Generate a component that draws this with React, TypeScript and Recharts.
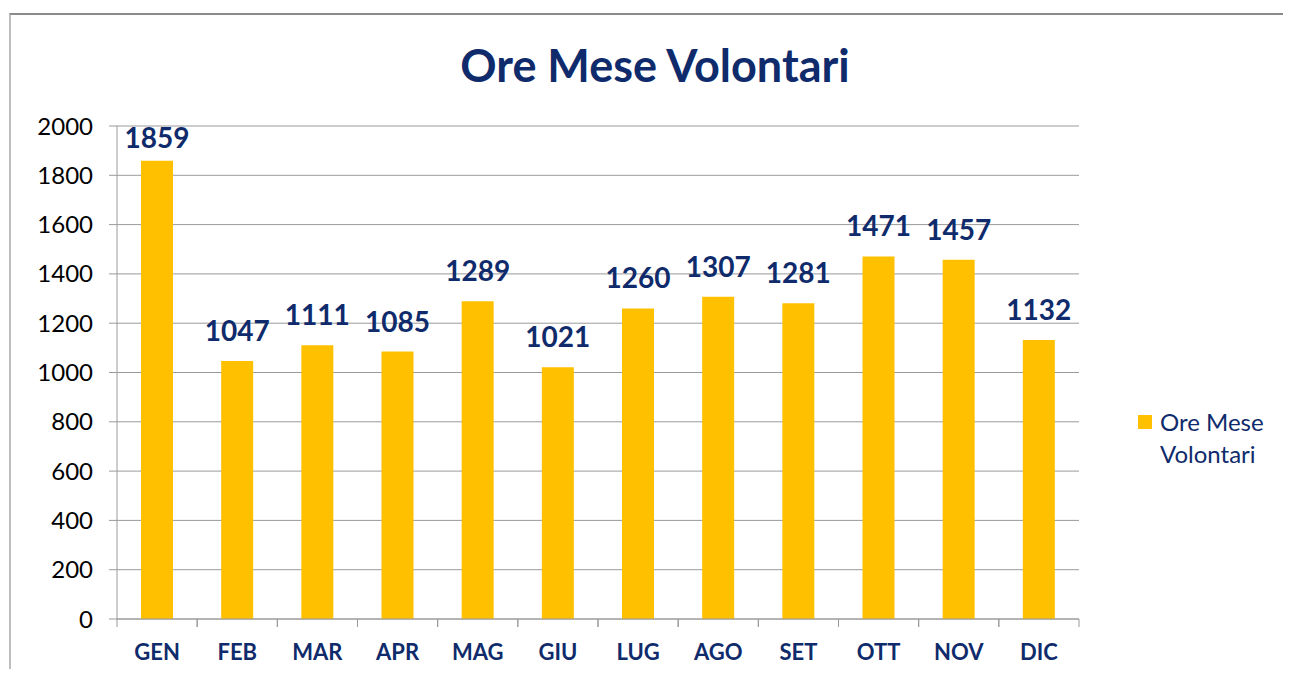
import { BarChart, Bar, XAxis, YAxis, CartesianGrid, LabelList } from 'recharts';

const mesi = ['GEN', 'FEB', 'MAR', 'APR', 'MAG', 'GIU', 'LUG', 'AGO', 'SET', 'OTT', 'NOV', 'DIC'];
const oreVolontari = [1859, 1047, 1111, 1085, 1289, 1021, 1260, 1307, 1281, 1471, 1457, 1132];
const yTicks = [0, 200, 400, 600, 800, 1000, 1200, 1400, 1600, 1800, 2000];

const NAVY = '#0f2b6b';
const GOLD = '#ffc000';
const GRID = '#9a9a9a';
const FONT = 'Lato, "Open Sans", sans-serif';

const data = mesi.map((m, i) => ({ mese: m, ore: oreVolontari[i] }));

// category tick: label plus small tick marks at the category edges
function MeseTick(props: any) {
  const { x, y, payload } = props;
  const half = payload && payload.offset ? payload.offset : 40;
  return (
    <g>
      <line x1={x - half} x2={x - half} y1={619} y2={627} stroke={GRID} />
      <line x1={x + half} x2={x + half} y1={619} y2={627} stroke={GRID} />
      <text x={x} y={y} dy="0.71em" textAnchor="middle" fill={NAVY} fontSize={22} fontWeight={700} fontFamily={FONT}>
        {payload.value}
      </text>
    </g>
  );
}

// value label above the bar, kept inside the plot area like Excel does
function ValueLabel(props: any) {
  const { x, y, width, value } = props;
  const base = Math.max(y - 20, 148);
  return (
    <text x={x + width / 2} y={base} textAnchor="middle" fill={NAVY} fontSize={28} fontWeight={700} fontFamily={FONT}>
      {value}
    </text>
  );
}

export default function App() {
  return (
    <div style={{ position: 'relative', width: 1291, height: 677, margin: -8, background: '#fff', overflow: 'hidden' }}>
      <div style={{ position: 'absolute', left: 9, top: 13, width: 1300, height: 700, borderLeft: '2px solid #bdbdbd', borderTop: '2px solid #8a8a8a' }} />
      <div style={{ position: 'absolute', left: 0, width: 1310, top: 40, textAlign: 'center', fontFamily: FONT, fontWeight: 700, fontSize: 45, color: NAVY, lineHeight: '50px' }}>
        Ore Mese Volontari
      </div>
      <div style={{ position: 'absolute', left: 0, top: 0 }}>
        <BarChart width={1291} height={677} data={data} margin={{ top: 126, right: 212, bottom: 0, left: 0 }} barCategoryGap="60%">
          <CartesianGrid vertical={false} stroke={GRID} strokeWidth={1} />
          <YAxis
            domain={[0, 2000]}
            ticks={yTicks}
            width={117}
            tickSize={8}
            tickMargin={16}
            stroke={GRID}
            tick={{ fill: '#000', fontSize: 24, fontFamily: FONT }}
          />
          <XAxis
            dataKey="mese"
            height={58}
            tickLine={false}
            tickSize={0}
            tickMargin={25}
            interval={0}
            stroke={GRID}
            tick={<MeseTick />}
          />
          <Bar dataKey="ore" fill={GOLD} barSize={32} isAnimationActive={false}>
            <LabelList dataKey="ore" content={<ValueLabel />} />
          </Bar>
        </BarChart>
      </div>
      <div style={{ position: 'absolute', left: 1138, top: 406, display: 'flex', alignItems: 'flex-start', fontFamily: FONT, fontSize: 24, color: NAVY, lineHeight: '32px' }}>
        <span style={{ width: 14, height: 14, background: GOLD, marginTop: 9, marginRight: 8, flex: 'none' }} />
        <span>Ore Mese<br />Volontari</span>
      </div>
    </div>
  );
}
